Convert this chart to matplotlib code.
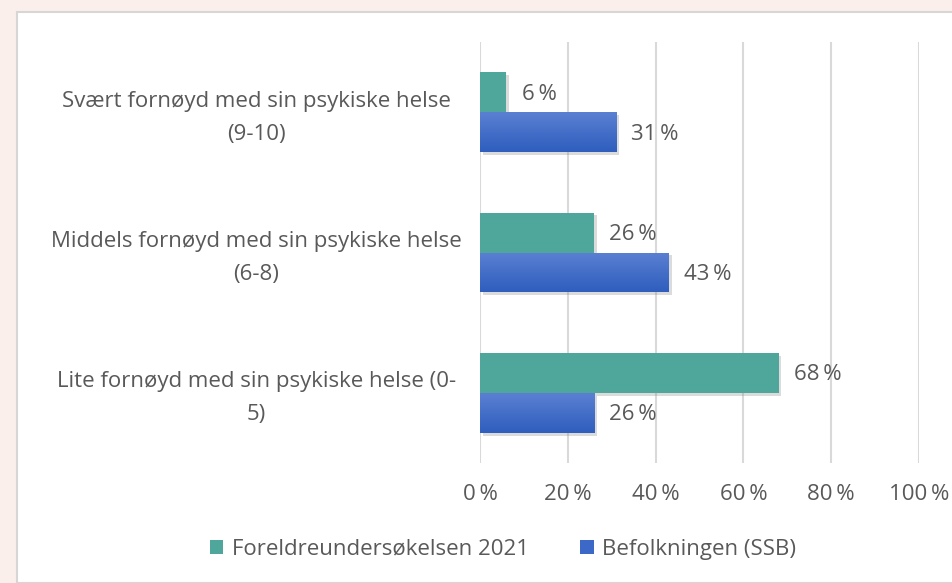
import matplotlib.pyplot as plt
import matplotlib.patheffects as pe
import matplotlib.transforms as mtransforms
from matplotlib.patches import Rectangle, Patch
from matplotlib.colors import LinearSegmentedColormap
import numpy as np

plt.rcParams['font.family'] = ['Open Sans', 'DejaVu Sans']

categories = ["Svært fornøyd med sin psykiske helse\n(9-10)",
              "Middels fornøyd med sin psykiske helse\n(6-8)",
              "Lite fornøyd med sin psykiske helse (0-\n5)"]
foreldre = [6, 26, 68]
befolkning = [31, 43, 26]
series_names = ["Foreldreundersøkelsen 2021", "Befolkningen (SSB)"]
xticks = [0, 20, 40, 60, 80, 100]

green = "#4FA69B"
blue = "#3C68C8"
txt = "#595959"
fs = 16

fig = plt.figure(figsize=(9.53, 5.83), dpi=100)
fig.patch.set_facecolor("#FAEFEA")
W, H = 953, 583
fig.patches.append(Rectangle((17 / W, 0), 1, 1 - 12 / H, transform=fig.transFigure,
                             facecolor="white", edgecolor="#D6D6D6", linewidth=1.5, zorder=-1))

ax = fig.add_axes([480 / W, 1 - 463 / H, 439 / W, 421 / H])
ax.set_facecolor("none")

pos = np.array([2, 1, 0])
h = 0.285
shadow = [pe.SimplePatchShadow(offset=(2, -2), shadow_rgbFace="#888888", alpha=0.3), pe.Normal()]
gb = ax.barh(pos + h / 2, foreldre, height=h, color=green, zorder=3, path_effects=shadow)
bb = ax.barh(pos - h / 2, befolkning, height=h, color=blue, zorder=3, path_effects=shadow)

# vertical gradient on the blue bars
cmap = LinearSegmentedColormap.from_list("g", ["#2F5EBE", "#5A80D2"])
grad = np.linspace(0, 1, 64).reshape(-1, 1)
for r in bb:
    x0, y0, w_, h_ = r.get_x(), r.get_y(), r.get_width(), r.get_height()
    im = ax.imshow(grad, extent=[x0, x0 + w_, y0, y0 + h_], origin="lower",
                   cmap=cmap, aspect="auto", zorder=4)
    im.set_clip_path(r)

for bars, vals in ((gb, foreldre), (bb, befolkning)):
    for r, v in zip(bars, vals):
        ax.annotate(f"{v}\u2009%", (r.get_width(), r.get_y() + r.get_height() / 2),
                    xytext=(11, -1.5), textcoords="offset points", ha="left", va="center",
                    fontsize=fs, color=txt, zorder=5)

ax.set_xlim(0, 100)
ax.set_ylim(-0.5, 2.5)
ax.set_xticks(xticks)
ax.set_xticklabels([f"{t}\u2009%" for t in xticks])
ax.set_yticks(pos)
ax.set_yticklabels(categories, ha="center", linespacing=1.75)
ax.tick_params(axis="y", length=0, pad=161, labelsize=fs, labelcolor=txt)
ax.tick_params(axis="x", length=0, pad=15, labelsize=fs, labelcolor=txt)
shift = mtransforms.ScaledTranslation(0, 3 / 100, fig.dpi_scale_trans)
for lab in ax.get_yticklabels():
    lab.set_transform(lab.get_transform() + shift)
for s in ax.spines.values():
    s.set_visible(False)
ax.grid(axis="x", color="#D9D9D9", linewidth=1.5, zorder=0)
ax.set_axisbelow(True)

handles = [Patch(facecolor=green), Patch(facecolor=blue)]
fig.legend(handles, series_names, loc="center", bbox_to_anchor=(0.528, 1 - 549 / H),
           ncol=2, frameon=False, fontsize=fs, labelcolor=txt,
           handlelength=0.6, handleheight=0.6, handletextpad=0.4, columnspacing=2.3)

fig.savefig("out.png", dpi=100, facecolor=fig.get_facecolor())
